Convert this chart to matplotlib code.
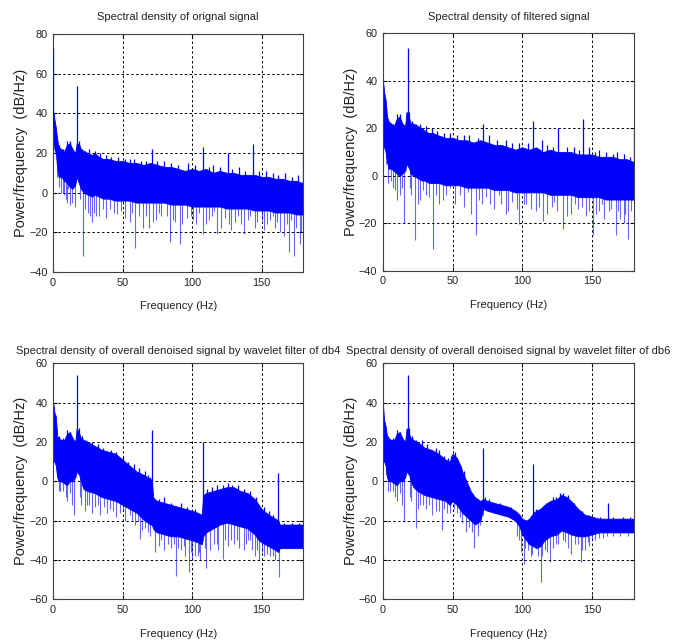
import numpy as np
import matplotlib
matplotlib.use('Agg')
import matplotlib.pyplot as plt

FONT = ['Liberation Sans', 'DejaVu Sans']

# ---- panel 1: original signal ----
orig_f = [0, 0.5, 1, 2, 3, 4, 6, 8, 10, 12, 14, 16, 17, 19, 20, 22, 25, 28, 30, 33, 36, 40, 45, 50, 55,
          60, 65, 70, 75, 80, 85, 90, 95, 100, 105, 110, 115, 120, 125, 130, 135, 140, 145, 150, 155,
          160, 165, 170, 175, 179, 180]
orig_top = [40, 40, 37, 33, 27, 23, 22, 21, 24, 25, 22, 20, 25, 24, 22, 21, 20, 19, 20, 18, 17, 17, 16, 16, 15,
            15, 14, 15, 14, 13, 13, 12, 11, 12, 11, 12, 10, 11, 10, 10, 9, 9, 9, 8, 8,
            7, 7, 6, 6, 5, 5]
orig_bot = [25, 25, 22, 20, 12, 8, 8, 6, 5, 3, 2, 4, 8, 4, 2, 0, -1, -2, -1, -2, -3, -3, -4, -4, -4,
            -5, -5, -5, -5, -5, -6, -6, -6, -7, -7, -7, -7, -7, -8, -8, -8, -8, -9, -9, -9,
            -10, -10, -10, -11, -11, -11]
orig_up_f = [0, 17.5, 71.5, 108, 125.7, 143.9, 180, 10, 18.5, 26, 34, 47, 58, 80, 97, 115, 134, 153, 167,
             4, 7, 12, 21, 23, 30, 38, 42, 52, 55, 63, 67, 75, 85, 90, 102, 112, 120, 129, 138, 148, 158,
             162, 172, 176]
orig_up_db = [73, 54, 22, 23, 20, 24.5, 19, 26, 26, 22, 20, 18, 17, 16, 15, 14, 13, 11, 10,
              24, 22, 26, 22, 21, 21, 19, 18, 17, 17, 16, 16, 16, 15, 14, 14, 13, 13, 12, 11, 11, 10,
              9, 8, 9]
orig_dn_f = [5.5, 8, 10, 12, 15.5, 21.8, 25, 28, 31, 36, 44, 49, 55, 59.2, 62, 65, 69, 74, 78, 84, 88, 91,
             96, 103, 108, 112, 118, 121, 128, 131, 137, 140, 147, 152, 156, 160, 163, 166, 169.8, 173.4,
             175, 177.7, 179.5,
             2.5, 4, 7, 9, 11, 13.5, 19.5, 23, 26.5, 29.5, 33, 38, 41, 46, 52, 57, 67, 72, 76, 82, 86, 93,
             99, 101, 105, 110, 114, 116, 124, 126.5, 133, 135, 142, 145, 150, 154, 158, 161, 168, 171, 178.5]
orig_dn_db = [0, -1, -5, -6, -7, -32, -10, -15, -12, -8, -10, -9, -15, -28, -12, -18, -18, -14, -12, -25, -15, -26,
              -13, -16, -21, -14, -21, -18, -19, -15, -21, -14, -15, -19, -14, -18, -20, -22, -30, -32,
              -18, -26, -17,
              8, 3, 0, -3, 2, -5, -3, -8, -12, -10, -12, -13, -8, -11, -13, -10, -12, -15, -10, -12, -14, -16,
              -12, -14, -10, -16, -12, -9, -13, -16, -12, -16, -12, -18, -14, -16, -12, -15, -16, -14, -20]

# ---- panel 2: filtered signal ----
filt_f = orig_f
filt_top = [40, 38, 35, 32, 25, 23, 22, 21, 24, 25, 22, 21, 27, 24, 22, 22, 21, 20, 19, 18, 18, 17, 16, 16, 15,
            15, 14, 15, 14, 13, 13, 12, 11, 12, 11, 12, 10, 11, 10, 10, 10, 9, 9, 9, 8,
            8, 8, 7, 7, 6, 6]
filt_bot = [15, 12, 12, 10, 6, 3, 3, 2, 1, 0, 1, 2, 5, 3, 1, 0, -1, -2, -2, -3, -3, -3, -4, -4, -4,
            -5, -5, -5, -5, -6, -6, -6, -7, -7, -7, -7, -7, -8, -8, -8, -8, -9, -9, -9, -9,
            -10, -10, -10, -10, -10, -10]
filt_up_f = [17.7, 71.5, 107.9, 125.6, 143.8, 180, 10, 18.5, 27, 39, 53, 76, 98, 114, 137, 155, 168,
             4, 7, 12, 21, 24, 31, 35, 44, 48, 58, 62, 68, 82, 88, 93, 104, 118, 122, 132, 141, 148, 152,
             160, 165, 173, 177]
filt_up_db = [54, 22, 23, 20, 24, 18, 26, 27, 22, 19, 17, 17, 14, 15, 12, 11, 10,
              24, 22, 26, 23, 22, 21, 20, 18, 18, 17, 17, 16, 15, 15, 14, 14, 13, 12, 12, 11, 12, 10,
              10, 9, 9, 8]
filt_dn_f = [6, 10, 12, 15, 20, 23.2, 27, 31, 36, 40, 45, 52, 58, 63, 66.5, 71, 80, 85, 90, 98, 103, 110,
             115, 121, 125, 129, 135, 140, 146, 151, 155, 159, 164, 167, 170, 173, 176, 179,
             2.5, 4, 7, 9, 13.5, 19.5, 25, 29, 33, 38, 43, 48, 55, 61, 69, 74, 77, 83, 88, 93, 96, 101,
             106, 112, 118, 123, 132, 138, 143, 148, 153, 157, 162, 169, 174, 178]
filt_dn_db = [-2, -10, -8, -20, -8, -27, -10, -8, -31, -12, -8, -12, -13, -16, -25, -12, -14, -12, -15, -20.5, -12, -15,
              -19, -13, -15, -22.6, -16, -14, -17, -25, -15, -18, -14, -25, -18, -20, -26.5, -10,
              5, -3, -5, -6, -5, -5, -12, -6, -9, -8, -10, -5, -8, -7, -10, -9, -12, -8, -16, -11, -14, -12,
              -14, -13, -16, -11, -17, -12, -13, -15, -16, -12, -15, -15, -16, -15]

# ---- panel 3: denoised db4 ----
db4_f = [0, 0.5, 1, 2, 3, 4, 6, 8, 10, 12, 14, 16, 17, 19, 20, 22, 25, 30, 35, 40, 45, 50, 55, 60, 63, 66, 68,
         70, 71, 72, 73, 75, 80, 85, 90, 95, 100, 104, 107, 108, 110, 115, 120, 125, 130, 135, 140, 145,
         148, 150, 155, 160, 162, 163, 165, 170, 175, 180]
db4_top = [40, 38, 35, 33, 23, 22, 21, 21, 24, 25, 22, 20, 27, 24, 22, 21, 20, 18, 16, 15, 14, 11, 8, 5, 4, 3, 2,
           1, 1, -8, -9, -10, -11, -12, -13, -14, -15, -16, -17, -7, -6, -5, -4, -3, -3, -5, -6, -9,
           -12, -14, -17, -19, -20, -22, -22, -22, -22, -22]
db4_bot = [10, 10, 10, 8, 2, 0, 0, -1, -2, 0, 0, 2, 5, 3, 0, -4, -5, -6, -8, -9, -10, -12, -14, -16, -18, -20, -21,
           -22, -22, -24, -25, -26, -27, -28, -28, -29, -30, -31, -32, -28, -26, -24, -22, -21, -22, -23, -24, -27,
           -30, -31, -33, -35, -36, -34, -34, -34, -34, -34]
db4_up_f = [17.5, 71.5, 107.7, 162, 10, 18.5, 28, 42, 50, 58, 66, 70, 80, 92, 118, 126, 133, 152,
            4, 7, 12, 21, 24, 32, 36, 45, 54, 62, 68, 76, 85, 96, 102, 111, 114, 122, 129, 137, 142, 146,
            155, 158, 166, 172, 177]
db4_up_db = [54, 26, 20, 4, 26, 27, 20, 16, 13, 9, 5, 2, -8, -11, -2, -1, -2, -13,
             23, 22, 25, 23, 21, 19, 17, 15, 10, 7, 3, -9, -11, -13, -14, -4, -3, -2, -2, -4, -5, -8,
             -15, -17, -21, -21, -21]
db4_dn_f = [5, 10, 12, 15.1, 20, 23, 26, 30, 34, 37, 41, 45, 48, 52, 55, 59, 62.6, 66, 73, 76, 80, 85, 88.5,
            92, 95, 97.6, 100, 104, 106, 110.3, 113, 116, 119, 122, 126, 130, 134, 137, 140, 143, 145,
            148.4, 152, 156, 160, 162.5,
            2.5, 4, 7, 9, 13.5, 19.5, 24.5, 28, 32, 39, 43, 50, 57, 61, 64, 68, 70, 78, 83, 87, 90, 94,
            99, 102, 105, 109, 118, 124, 128, 132, 139, 142, 147, 150, 154, 158]
db4_dn_db = [-5, -10, -6, -17, -12, -15, -12, -13, -17, -13, -14, -18, -16, -20, -17, -22, -29.5, -24, -36, -33, -35,
             -34, -48, -35, -38, -46, -40, -38, -40, -44, -35, -32, -35, -39.6, -33, -32, -34, -35, -30, -35, -38,
             -40, -38, -38, -40, -48.5,
             3, -5, -5, -8, -12, -8, -12, -16, -12, -16, -15, -15, -20, -20, -25, -26, -28, -30, -32, -32, -34, -33,
             -36, -38, -36, -34, -32, -30, -30, -30, -32, -30, -35, -36, -37, -38]

# ---- panel 4: denoised db6 ----
db6_f = [0, 0.5, 1, 2, 3, 4, 6, 8, 10, 12, 14, 16, 17, 19, 20, 22, 25, 30, 35, 40, 45, 48, 50, 53, 55, 57, 60,
         63, 66, 70, 72, 75, 80, 85, 90, 95, 98, 100, 103, 105, 108, 110, 113, 116, 120, 125, 128, 132, 135,
         140, 145, 150, 155, 160, 165, 170, 175, 180]
db6_top = [40, 35, 31, 28, 23, 22, 21, 21, 24, 25, 22, 20, 27, 24, 22, 21, 20, 17, 16, 14, 11, 10, 14, 12, 9, 5, 0,
           -5, -8, -10, -9, -10, -11, -12, -13, -15, -17, -19, -20, -19, -16, -15, -14, -12, -10, -9, -7, -8, -10,
           -14, -17, -18, -19, -19, -19, -19, -19, -19]
db6_bot = [10, 10, 10, 8, 2, 0, 0, -1, -2, 0, 0, 2, 5, 3, 0, -3, -5, -7, -8, -9, -10, -12, -10, -12, -14, -16, -18,
           -20, -22, -20, -14, -15, -16, -17, -18, -20, -23, -27, -30, -32, -33, -34, -33, -30, -28, -27, -25, -26, -27,
           -28, -28, -27, -26, -26, -26, -26, -26, -26]
db6_up_f = [17.7, 71.5, 107.7, 161.5, 10, 18.5, 28, 38, 47, 56, 73, 122, 129, 133,
            4, 7, 12, 21, 24, 32, 40, 44, 49, 52, 58, 62, 76, 84, 92, 110, 117, 124, 127, 137, 143, 148,
            156, 165, 172, 177]
db6_up_db = [54, 17, 9, -11, 26, 27, 21, 17, 12, 8, -8, -8, -6, -7,
             23, 22, 25, 23, 21, 19, 16, 13, 13, 15, 5, -3, -9, -11, -13, -14, -11, -8, -6, -11, -15, -17,
             -18, -18, -18, -18]
db6_dn_f = [5, 10, 12, 15, 20, 23.7, 27, 31, 35, 38, 42.6, 46, 51, 55, 59.3, 62, 65.6, 68, 70, 96, 99, 101.2,
            104, 106, 109, 111, 113.2, 116, 120, 124, 129, 135, 138, 141.9, 145, 148, 152, 158, 165,
            2.5, 4, 7, 9, 13.5, 19.5, 25.5, 29, 33, 40, 44, 48, 53, 57, 64, 72, 98, 102, 107, 114, 118,
            122, 126, 131, 133, 140, 143, 147, 150, 155, 161, 170, 176]
db6_dn_db = [-5, -10, -6, -20.7, -10, -24, -12, -14, -17, -15, -25, -16, -14, -18, -26, -23, -34, -28, -22, -28, -36,
             -42, -35, -38, -32, -38, -51, -35, -41, -32, -30, -37, -32, -41, -35, -33, -30, -29, -28,
             3, -5, -5, -8, -12, -8, -14, -12, -12, -15, -14, -16, -16, -21, -26, -17, -30, -34, -37, -38, -36,
             -34, -32, -31, -34, -32, -35, -31, -30, -29, -28, -28, -28]

panels = [
    ('Spectral density of orignal signal', orig_f, orig_top, orig_bot,
     orig_up_f, orig_up_db, orig_dn_f, orig_dn_db, (-40, 80)),
    ('Spectral density of filtered signal', filt_f, filt_top, filt_bot,
     filt_up_f, filt_up_db, filt_dn_f, filt_dn_db, (-40, 60)),
    ('Spectral density of overall denoised signal by wavelet filter of db4', db4_f, db4_top, db4_bot,
     db4_up_f, db4_up_db, db4_dn_f, db4_dn_db, (-60, 60)),
    ('Spectral density of overall denoised signal by wavelet filter of db6', db6_f, db6_top, db6_bot,
     db6_up_f, db6_up_db, db6_dn_f, db6_dn_db, (-60, 60)),
]

positions = [
    [0.078, 0.577, 0.368, 0.370],
    [0.563, 0.579, 0.369, 0.369],
    [0.078, 0.068, 0.368, 0.367],
    [0.563, 0.068, 0.369, 0.367],
]
title_pads = [10, 10, 7, 7]
TXT = '#222222'

fig = plt.figure(figsize=(6.8, 6.43), dpi=100)

for (title, f, top, bot, up_f, up_db, dn_f, dn_db, ylim), pos, tpad in zip(panels, positions, title_pads):
    ax = fig.add_axes(pos)
    ax.set_axisbelow(True)
    f = np.array(f, dtype=float)
    top = np.array(top, dtype=float)
    bot = np.array(bot, dtype=float)
    mid = (top + bot) / 2

    # dense PSD band
    ax.fill_between(f, bot, top, color='b', lw=0.6, zorder=2)
    # spikes above / below the band
    ax.vlines(dn_f, np.interp(dn_f, f, mid), dn_db, color='b', lw=0.8, alpha=0.6, zorder=1.8)
    ax.vlines(up_f, np.interp(up_f, f, mid), up_db, color='b', lw=0.9, zorder=3)

    ax.set_xlim(0, 180)
    ax.set_ylim(*ylim)
    ax.set_xticks([0, 50, 100, 150])
    ax.set_yticks(np.arange(ylim[0], ylim[1] + 1, 20))
    ax.grid(True, color='black', linestyle=(0, (2.5, 2.5)), lw=0.7)
    ax.tick_params(direction='in', top=True, right=True, length=3, labelsize=7.8, pad=4,
                   labelcolor=TXT)
    for lab in ax.get_xticklabels() + ax.get_yticklabels():
        lab.set_family(FONT)
    for s in ax.spines.values():
        s.set_linewidth(0.8)
        s.set_color('#404040')

    ax.set_title(title, family=FONT, fontsize=8, pad=tpad, color=TXT)
    ax.set_xlabel('Frequency (Hz)', family=FONT, fontsize=8, labelpad=10, color=TXT)
    ax.set_ylabel('Power/frequency  (dB/Hz)', family=FONT, fontsize=10.5, labelpad=0.5, color=TXT)

fig.savefig('out.png', dpi=100)
